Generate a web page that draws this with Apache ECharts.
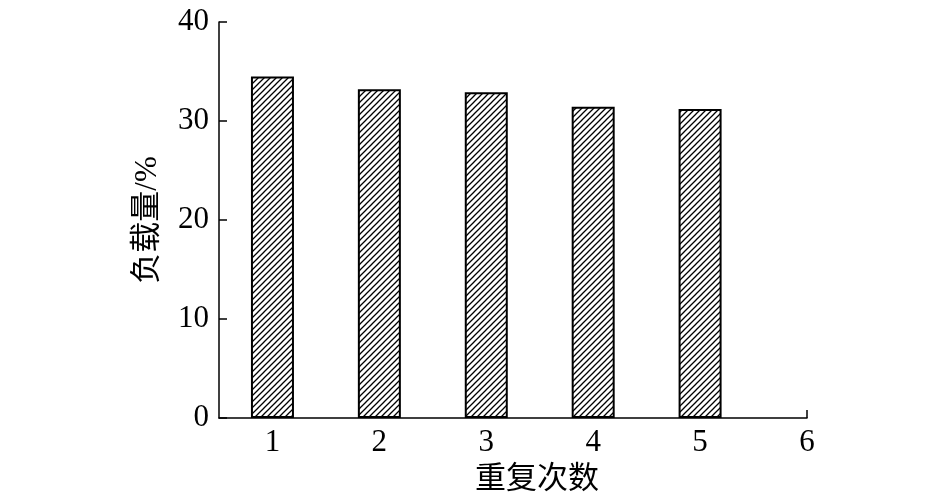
<!DOCTYPE html>
<html>
<head>
<meta charset="utf-8">
<script src="https://cdn.jsdelivr.net/npm/echarts@6/dist/echarts.min.js"></script>
<style>
  html, body { margin: 0; padding: 0; background: #fff; }
  #chart { width: 945px; height: 500px; }
</style>
</head>
<body>
<div id="chart"></div>
<script>
const repeats = [1, 2, 3, 4, 5]
const loading = [34.5, 33.2, 32.9, 31.45, 31.2]
const xTicks = [1, 2, 3, 4, 5, 6]
const yTicks = [0, 10, 20, 30, 40]

const font = '"Liberation Serif", "Noto Sans CJK SC", serif'

// hatch pattern "/" lines
function makeHatch() {
  const s = 6
  const c = document.createElement('canvas')
  c.width = s
  c.height = s
  const ctx = c.getContext('2d')
  ctx.fillStyle = '#fff'
  ctx.fillRect(0, 0, s, s)
  ctx.strokeStyle = '#000'
  ctx.lineWidth = 1.3
  ctx.beginPath()
  ctx.moveTo(-1, s + 1); ctx.lineTo(s + 1, -1)
  ctx.moveTo(-1, 1); ctx.lineTo(1, -1)
  ctx.moveTo(s - 1, s + 1); ctx.lineTo(s + 1, s - 1)
  ctx.stroke()
  return c
}

const chart = echarts.init(document.getElementById('chart'))
chart.setOption({
  animation: false,
  grid: { left: 219, right: 138, top: 22, bottom: 82 },
  xAxis: {
    type: 'value',
    min: 0.5,
    max: 6,
    interval: 1,
    name: '重复次数',
    nameLocation: 'middle',
    nameGap: 46,
    nameTextStyle: { fontFamily: font, fontSize: 31, color: '#000', padding: [0, 0, 0, 48] },
    axisLine: { lineStyle: { color: '#000', width: 1.5 } },
    axisTick: { inside: true, length: 8, lineStyle: { color: '#000', width: 1.5 },
      customValues: xTicks },
    axisLabel: { fontFamily: font, fontSize: 31, color: '#000', margin: 9,
      customValues: xTicks },
    splitLine: { show: false }
  },
  yAxis: {
    type: 'value',
    min: 0,
    max: 40,
    interval: 10,
    name: '负载量/%',
    nameLocation: 'middle',
    nameGap: 56,
    nameRotate: 90,
    nameTextStyle: { fontFamily: font, fontSize: 31, color: '#000' },
    axisLine: { show: true, lineStyle: { color: '#000', width: 1.5 } },
    axisTick: { show: true, inside: true, length: 8, lineStyle: { color: '#000', width: 1.5 },
      customValues: yTicks },
    axisLabel: { fontFamily: font, fontSize: 31, color: '#000', margin: 10,
      customValues: yTicks },
    splitLine: { show: false }
  },
  series: [{
    type: 'bar',
    barWidth: 43,
    data: repeats.map((r, i) => [r, loading[i]]),
    itemStyle: {
      color: { image: makeHatch(), repeat: 'repeat' },
      borderColor: '#000',
      borderWidth: 2
    }
  }]
})
</script>
</body>
</html>
